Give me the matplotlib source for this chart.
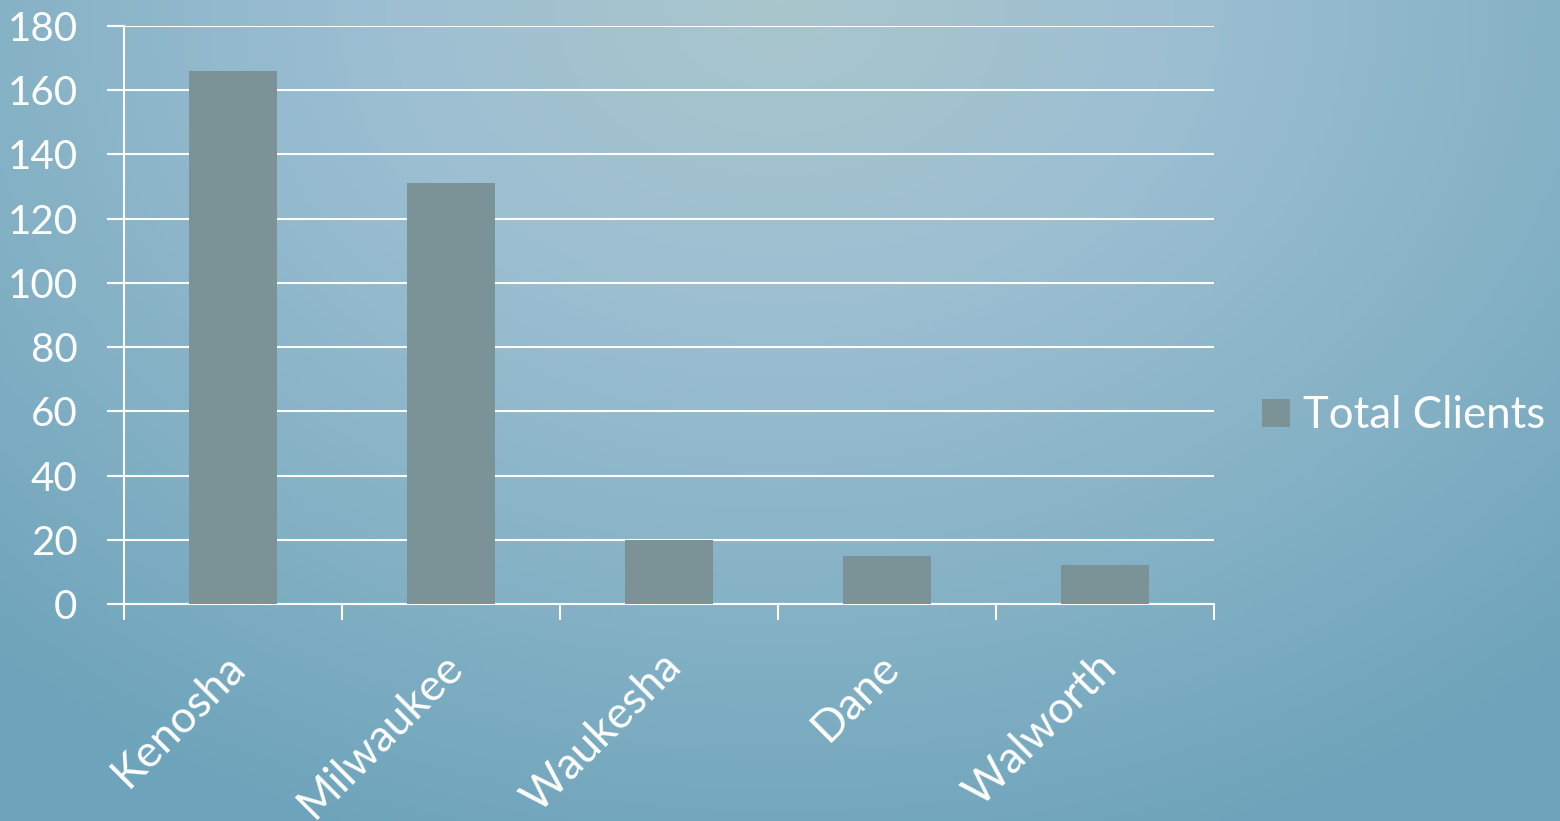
import numpy as np
import matplotlib.pyplot as plt
import matplotlib.transforms as mtransforms
from matplotlib.colors import LinearSegmentedColormap

# data
counties = ["Kenosha", "Milwaukee", "Waukesha", "Dane", "Walworth"]
total_clients = [166, 131, 20, 15, 12]
y_ticks = [0, 20, 40, 60, 80, 100, 120, 140, 160, 180]

bar_color = "#7b9396"
plt.rcParams["font.family"] = ["Lato", "DejaVu Sans"]

fig = plt.figure(figsize=(15.6, 8.21), dpi=100)

# background gradient (lighter in top middle, darker at edges)
bg = fig.add_axes([0, 0, 1, 1], zorder=-10)
xx, yy = np.meshgrid(np.linspace(0, 1, 400), np.linspace(0, 1, 220))
d = np.sqrt(((xx - 0.5) / 0.75) ** 2 + (yy / 1.1) ** 2)
cmap = LinearSegmentedColormap.from_list("bg", ["#a9c6cc", "#9dbfd2", "#86b2c6", "#6ea4bb"])
bg.imshow(np.clip(d, 0, 1), cmap=cmap, aspect="auto", extent=[0, 1, 1, 0])
bg.axis("off")

ax = fig.add_axes([124 / 1560, 1 - 604 / 821, (1214 - 124) / 1560, (604 - 26) / 821])
ax.patch.set_alpha(0)

x = np.arange(len(counties))
ax.bar(x, total_clients, width=0.4, color=bar_color, zorder=3, label="Total Clients")

ax.set_xlim(-0.5, len(counties) - 0.5)
ax.set_ylim(0, 180)
ax.set_yticks(y_ticks)
ax.tick_params(axis="y", colors="white", labelcolor="white", labelsize=29, length=11.5, width=1.5, pad=22)
ax.grid(axis="y", color="white", linewidth=1.5, zorder=1)

ax.set_xticks(np.arange(len(counties) + 1) - 0.5, minor=False)
ax.set_xticklabels([])
ax.tick_params(axis="x", which="major", colors="white", length=11.5, width=1.5)
ax.set_xticks(x, minor=True)
ax.set_xticklabels(counties, minor=True, rotation=45, ha="right", rotation_mode="anchor")
ax.tick_params(axis="x", which="minor", length=0, labelcolor="white", labelsize=32, pad=30)
shift = mtransforms.ScaledTranslation(-9 / 100, 0, fig.dpi_scale_trans)
for lbl in ax.get_xticklabels(minor=True):
    lbl.set_transform(lbl.get_transform() + shift)

for s in ["top", "right"]:
    ax.spines[s].set_visible(False)
for s in ["left", "bottom"]:
    ax.spines[s].set_color("white")
    ax.spines[s].set_linewidth(1.5)

# extend gridlines left over the tick marks
for yt in y_ticks:
    ax.plot([-0.575, -0.5], [yt, yt], color="white", lw=1.5, clip_on=False)

fig.legend(loc="center left", bbox_to_anchor=(1223 / 1560, 1 - 416 / 821), frameon=False,
           fontsize=31.5, labelcolor="white", handlelength=0.62, handleheight=0.62, handletextpad=0.3)

fig.savefig("out.png", dpi=100)
